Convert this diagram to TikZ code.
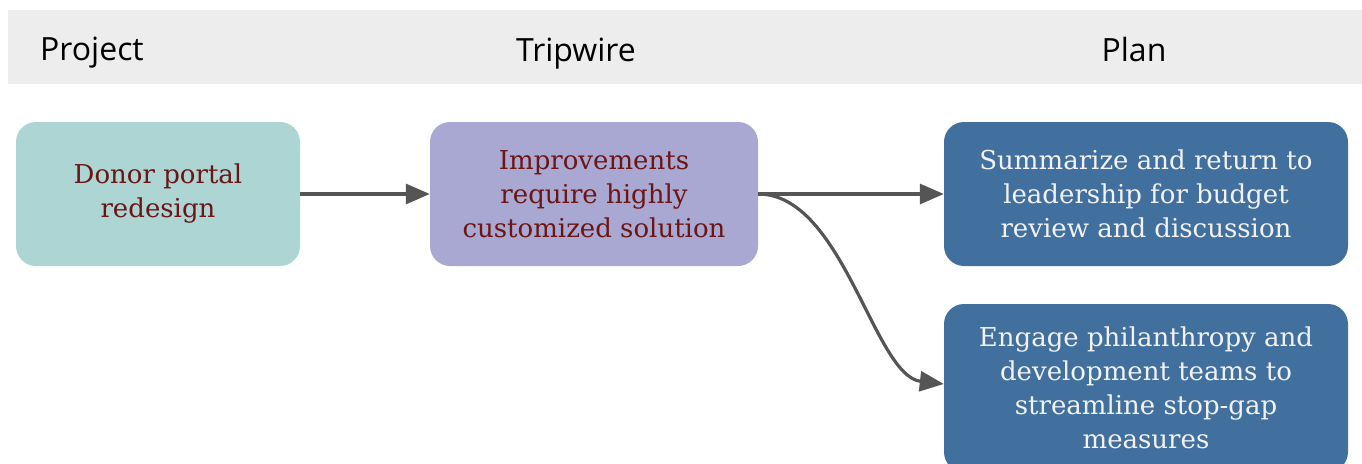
\documentclass[tikz,border=0pt]{standalone}
\usepackage{fontspec}
\setmainfont{DejaVu Serif}
\newfontfamily\hdrfont{Open Sans}
\usetikzlibrary{arrows.meta}
\definecolor{hdrgray}{HTML}{EDEDED}
\definecolor{tealbox}{HTML}{ADD5D4}
\definecolor{lavbox}{HTML}{A9A8D3}
\definecolor{bluebox}{HTML}{41709E}
\definecolor{maroon}{HTML}{6B1515}
\definecolor{whitetxt}{HTML}{F2F2F2}
\definecolor{arrowgray}{HTML}{555555}
\tikzset{
  hdr/.style={font=\hdrfont\fontsize{32}{38}\selectfont, text=black, inner sep=0pt},
  card/.style={rounded corners=20pt, inner sep=0pt, align=center,
    font=\fontsize{26}{34}\selectfont},
  lightcard/.style={card, text=maroon},
  darkcard/.style={card, fill=bluebox, text=whitetxt},
  conn/.style={draw=arrowgray, line width=3.2pt, -{Triangle[length=24pt,width=20pt]}}
}
\begin{document}
\begin{tikzpicture}[x=1pt,y=-1pt]
\useasboundingbox (0,0) rectangle (1362,463);
\begin{scope}
\clip (0,0) rectangle (1362,463);
\fill[hdrgray] (8,10) rectangle (1362,84);
\node[hdr, anchor=base west] (hproj) at (40,60) {Project};
\node[hdr, anchor=base] (htrip) at (576,61) {Tripwire};
\node[hdr, anchor=base] (hplan) at (1134,61) {Plan};
\node[lightcard, fill=tealbox, minimum width=284pt, minimum height=144pt] (donor) at (158,194) {Donor portal\\redesign};
\node[lightcard, fill=lavbox, minimum width=328pt, minimum height=144pt] (trip) at (594,194) {Improvements\\require highly\\customized solution};
\node[darkcard, minimum width=404pt, minimum height=144pt] (plan1) at (1146,194) {Summarize and return to\\leadership for budget\\review and discussion};
\node[darkcard, minimum width=404pt, minimum height=168pt] (plan2) at (1146,388) {Engage philanthropy and\\development teams to\\streamline stop-gap\\measures};
\end{scope}
\draw[conn] (donor.east) -- (trip.west);
\draw[conn] (trip.east) -- (plan1.west);
\coordinate (p2in) at (plan2.west |- 0,384);
\draw[conn] (trip.east) .. controls +(85,0) and +(-70,-8) .. (p2in);
\end{tikzpicture}
\end{document}
